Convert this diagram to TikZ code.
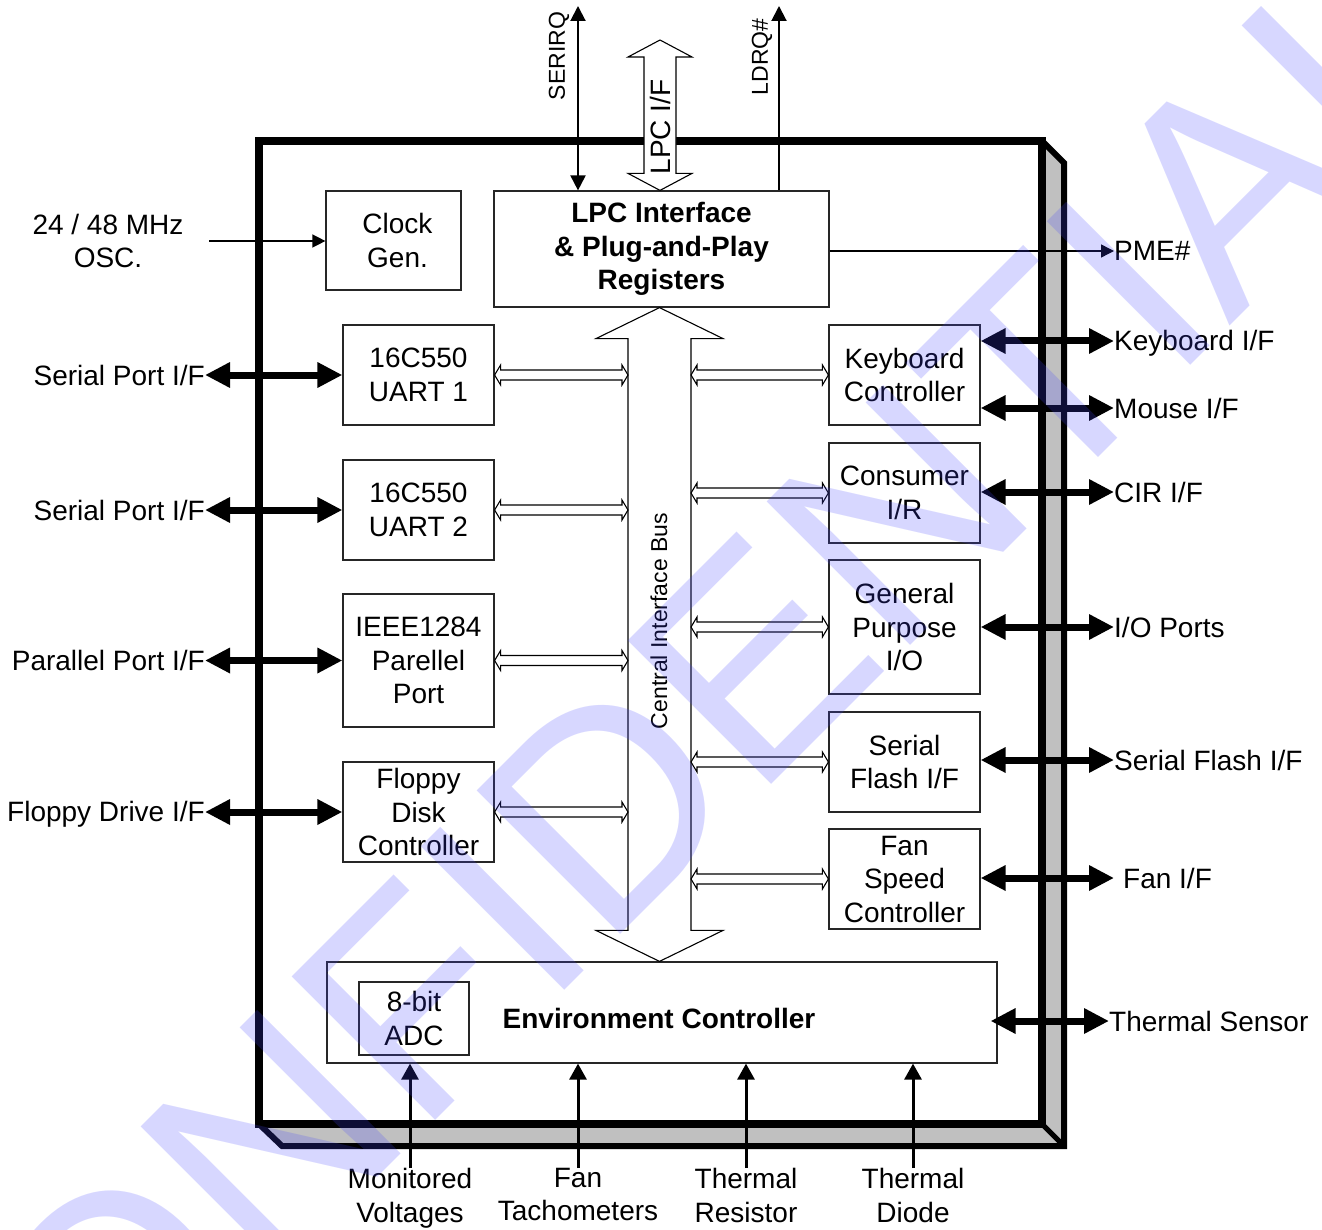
\documentclass[tikz,border=0pt]{standalone}
\usepackage{fontspec}
\setmainfont{Liberation Sans}
\usetikzlibrary{arrows.meta,calc}
\definecolor{bevelgray}{RGB}{192,192,192}
\definecolor{wmblue}{RGB}{70,70,255}
\newcommand{\bigtxt}{\fontsize{28}{33.5}\selectfont}
\newcommand{\smalltxt}{\fontsize{23}{23}\selectfont}
% horizontal hollow double arrow: #1 start, #2 end, #3 head half width, #4 head length, #5 shaft half width
\newcommand{\hollowH}[5]{\filldraw[hollow] let \p1=(#1), \p2=(#2) in
  (\x1,\y1) -- (\x1+#4,\y1+#3) -- (\x1+#4,\y1+#5) -- (\x2-#4,\y1+#5) -- (\x2-#4,\y1+#3) -- (\x2,\y1)
  -- (\x2-#4,\y1-#3) -- (\x2-#4,\y1-#5) -- (\x1+#4,\y1-#5) -- (\x1+#4,\y1-#3) -- cycle;}
% vertical hollow double arrow: #1 top tip, #2 bottom tip
\newcommand{\hollowV}[5]{\filldraw[hollow] let \p1=(#1), \p2=(#2) in
  (\x1,\y1) -- (\x1+#3,\y1-#4) -- (\x1+#5,\y1-#4) -- (\x1+#5,\y2+#4) -- (\x1+#3,\y2+#4) -- (\x1,\y2)
  -- (\x1-#3,\y2+#4) -- (\x1-#5,\y2+#4) -- (\x1-#5,\y1-#4) -- (\x1-#3,\y1-#4) -- cycle;}
\tikzset{
  box/.style={draw=black!85, line width=1.2pt, fill=white, inner sep=0pt, align=center, font=\bigtxt},
  lbl/.style={inner sep=0pt, font=\bigtxt, text height=20pt, text depth=0pt},
  mlbl/.style={inner sep=0pt, font=\bigtxt, align=center},
  vlbl/.style={inner sep=0pt, rotate=90},
  thinarr/.style={line width=1.4pt, -{Triangle[length=13pt,width=13pt]}},
  sigarr/.style={line width=2pt, -{Triangle[length=15pt,width=15pt]}},
  sigdbl/.style={line width=2pt, {Triangle[length=15pt,width=15pt]}-{Triangle[length=15pt,width=15pt]}},
  uparr/.style={line width=3pt, -{Triangle[length=16pt,width=17pt]}},
  ioarr/.style={line width=7pt, {Triangle[length=25pt,width=24pt]}-{Triangle[length=25pt,width=24pt]}},
  hollow/.style={draw=black, line width=1.1pt, fill=white, line join=miter},
}
\begin{document}
\begin{tikzpicture}[x=1pt,y=-1pt]
\useasboundingbox (0,0) rectangle (1322,1230);
\fill[white] (0,0) rectangle (1322,1230);

% chip body with bevel
\draw[line width=6pt, line join=miter, fill=bevelgray] (259,141) -- (1042,141) -- (1064,163) -- (1064,1146) -- (282,1146) -- (259,1124) -- cycle;
\draw[line width=5pt] (1042,1124) -- (1064,1146);
\draw[line width=7.5pt, fill=white] (259,141) rectangle (1042,1124);

% helper coordinates
\coordinate (serirqtop) at (578,6);
\coordinate (ldrqtop) at (779,6);
\coordinate (lpciftop) at (660,40);
\coordinate (busC) at (659.5,0);
\coordinate (busL) at (628,0);
\coordinate (busR) at (691,0);
\coordinate (oscstart) at (209,241);

% blocks
\node[box, minimum width=135pt, minimum height=99pt] (clock) at (393.5,240.5) {\hspace*{8pt}Clock\\\hspace*{8pt}Gen.};
\node[box, minimum width=335pt, minimum height=116pt, font=\bigtxt\bfseries] (lpc) at (661.5,249) {LPC Interface\\\& Plug-and-Play\\Registers};
\node[box, minimum width=151pt, minimum height=100pt] (uart1) at (418.5,375) {16C550\\UART 1};
\node[box, minimum width=151pt, minimum height=100pt] (uart2) at (418.5,510) {16C550\\UART 2};
\node[box, minimum width=151pt, minimum height=133pt] (ieee) at (418.5,660.5) {IEEE1284\\Parellel\\Port};
\node[box, minimum width=151pt, minimum height=100pt] (fdc) at (418.5,812) {Floppy\\Disk\\Controller};
\node[box, minimum width=151pt, minimum height=100pt] (kbc) at (904.5,375) {Keyboard\\Controller};
\node[box, minimum width=151pt, minimum height=100pt] (cir) at (904.5,493) {Consumer\\I/R};
\node[box, minimum width=151pt, minimum height=134pt] (gpio) at (904.5,627) {General\\Purpose\\I/O};
\node[box, minimum width=151pt, minimum height=100pt] (sflash) at (904.5,762) {Serial\\Flash I/F};
\node[box, minimum width=151pt, minimum height=100pt] (fan) at (904.5,879) {Fan\\Speed\\Controller};
\node[box, minimum width=670pt, minimum height=101pt] (env) at (662,1012.5) {};
\node[font=\bigtxt\bfseries, inner sep=0pt] (envl) at (659,1018) {Environment Controller};
\node[box, minimum width=110pt, minimum height=73pt] (adc) at (414,1018.5) {8-bit\\ADC};

% LPC I/F hollow arrow and top signals
\hollowV{lpciftop}{lpc.north -| lpciftop}{32pt}{17pt}{16pt}
\node[vlbl, font=\bigtxt] (lpcifl) at (660,127) {LPC I/F};
\draw[sigdbl] (serirqtop) -- (serirqtop |- lpc.north);
\draw[sigarr] (ldrqtop |- lpc.north) -- (ldrqtop);
\node[vlbl, font=\smalltxt] (serl) at (559,56) {SERIRQ};
\node[vlbl, font=\smalltxt] (ldrl) at (762,57) {LDRQ\#};

% central bus
\hollowV{lpc.south -| busC}{env.north -| busC}{63.5pt}{31pt}{31.5pt}
\node[vlbl, font=\smalltxt] (busl) at (659,621) {Central Interface Bus};

% internal hollow links
\hollowH{uart1.east}{busL}{10pt}{6pt}{5pt}
\hollowH{uart2.east}{busL}{10pt}{6pt}{5pt}
\hollowH{ieee.east}{busL}{10pt}{6pt}{5pt}
\hollowH{fdc.east}{busL}{10pt}{6pt}{5pt}
\hollowH{busR |- kbc.west}{kbc.west}{10pt}{6pt}{5pt}
\hollowH{busR |- cir.west}{cir.west}{10pt}{6pt}{5pt}
\hollowH{busR |- gpio.west}{gpio.west}{10pt}{6pt}{5pt}
\hollowH{busR |- sflash.west}{sflash.west}{10pt}{6pt}{5pt}
\hollowH{busR |- fan.west}{fan.west}{10pt}{6pt}{5pt}

% oscillator
\node[mlbl] (oscl) at (108,241) {24 / 48 MHz\\OSC.};
\draw[thinarr] (oscstart) -- (oscstart -| clock.west);

% PME
\node[lbl, anchor=west] (pmel) at (1114,251) {PME\#};
\draw[thinarr] (pmel.west -| lpc.east) -- (pmel.west);

% left I/O
\node[lbl, anchor=east] (sp1l) at (205,375) {Serial Port I/F};
\node[lbl, anchor=east] (sp2l) at (205,510) {Serial Port I/F};
\node[lbl, anchor=east] (ppl) at (205,660) {Parallel Port I/F};
\node[lbl, anchor=east] (fdl) at (205,811) {Floppy Drive I/F};
\draw[ioarr] (uart1.west -| sp1l.east) -- (uart1.west);
\draw[ioarr] (uart2.west -| sp2l.east) -- (uart2.west);
\draw[ioarr] (ieee.west -| ppl.east) -- (ieee.west);
\draw[ioarr] (fdc.west -| fdl.east) -- (fdc.west);

% right I/O
\node[lbl, anchor=west] (kbdl) at (1114,341) {Keyboard I/F};
\node[lbl, anchor=west] (msl) at (1114,408) {Mouse I/F};
\node[lbl, anchor=west] (cirl) at (1114,492) {CIR I/F};
\node[lbl, anchor=west] (iol) at (1114,627) {I/O Ports};
\node[lbl, anchor=west] (sfl) at (1114,760) {Serial Flash I/F};
\node[lbl, anchor=west] (fanl) at (1123,878) {Fan I/F};
\node[lbl, anchor=west] (thsl) at (1109,1021) {Thermal Sensor};
\draw[ioarr] (kbdl.west -| kbc.east) -- (kbdl.west);
\draw[ioarr] (msl.west -| kbc.east) -- (msl.west);
\draw[ioarr] (cirl.west -| cir.east) -- (cirl.west);
\draw[ioarr] (iol.west -| gpio.east) -- (iol.west);
\draw[ioarr] (sfl.west -| sflash.east) -- (sfl.west);
\draw[ioarr] (fanl.west -| fan.east) -- ([xshift=-9pt]fanl.west);
\draw[ioarr] (thsl.west -| env.east) ++(-7pt,0pt) -- (thsl.west);

% bottom inputs
\node[mlbl, anchor=north] (monl) at (410,1168) {Monitored\\Voltages};
\node[mlbl, anchor=north] (tachl) at (578,1168) {Fan\\Tachometers};
\node[mlbl, anchor=north] (thrl) at (746,1168) {Thermal\\Resistor};
\node[mlbl, anchor=north] (thdl) at (913,1168) {Thermal\\Diode};
\draw[uparr] (monl.north) -- (monl.north |- env.south);
\draw[uparr] (tachl.north) -- (tachl.north |- env.south);
\draw[uparr] (thrl.north) -- (thrl.north |- env.south);
\draw[uparr] (thdl.north) -- (thdl.north |- env.south);

% watermark
\node[rotate=45, font=\fontsize{295}{295}\selectfont, text=wmblue, opacity=0.21, inner sep=0pt] (wm) at (648,764) {CONFIDENTIAL};
\end{tikzpicture}
\end{document}
